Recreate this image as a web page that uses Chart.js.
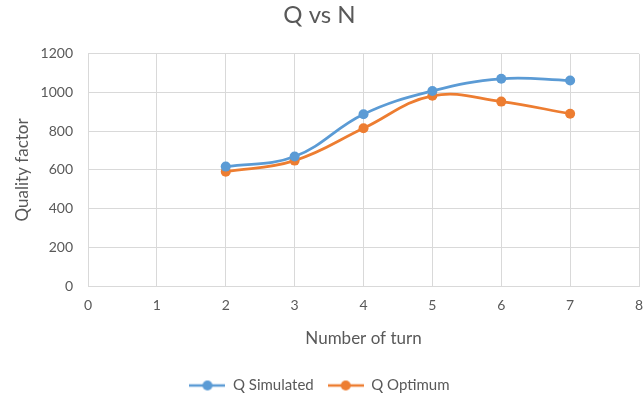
<!DOCTYPE html>
<html>
<head>
<meta charset="utf-8">
<script src="https://cdn.jsdelivr.net/npm/chart.js@4"></script>
<style>
  html, body { margin: 0; padding: 0; background: #ffffff; }
  #c { display: block; }
</style>
</head>
<body>
<canvas id="c" width="644" height="403"></canvas>
<script>
// Number of turns and the quality factor for each design
const turns = [2, 3, 4, 5, 6, 7];
const qSimulated = [617, 669, 888, 1008, 1071, 1062];
const qOptimum = [591, 648, 815, 983, 953, 890];
const seriesNames = ['Q Simulated', 'Q Optimum'];
const seriesColors = ['#5b9bd5', '#ed7d31'];

const FONT = 'Lato, "Open Sans", sans-serif';
const TEXT = '#595959';
const GRID = '#d9d9d9';

// Legend swatch: a short line with a dot in the middle
function makeMarker(color) {
  const cv = document.createElement('canvas');
  cv.width = 36; cv.height = 12;
  const g = cv.getContext('2d');
  g.strokeStyle = color; g.lineWidth = 2.5;
  g.beginPath(); g.moveTo(0, 6); g.lineTo(36, 6); g.stroke();
  g.fillStyle = color;
  g.beginPath(); g.arc(18, 6, 5, 0, Math.PI * 2); g.fill();
  return cv;
}
const markers = seriesColors.map(makeMarker);

function toPoints(ys) { return turns.map((x, i) => ({ x: x, y: ys[i] })); }

new Chart(document.getElementById('c'), {
  type: 'line',
  data: {
    datasets: [qSimulated, qOptimum].map((ys, i) => ({
      label: seriesNames[i],
      data: toPoints(ys),
      borderColor: seriesColors[i],
      backgroundColor: seriesColors[i],
      borderWidth: 2.75,
      pointRadius: 5,
      pointHoverRadius: 5,
      pointBorderWidth: 0,
      tension: 0.4,
      fill: false
    }))
  },
  options: {
    responsive: false,
    animation: false,
    devicePixelRatio: 1,
    layout: { padding: { left: 0, right: 5, top: 0, bottom: 0 } },
    plugins: {
      title: {
        display: true,
        text: 'Q vs N',
        color: TEXT,
        font: { family: FONT, size: 24, weight: 'normal' },
        padding: { top: 1, bottom: 24 }
      },
      legend: {
        position: 'bottom',
        labels: {
          color: TEXT,
          font: { family: FONT, size: 15 },
          usePointStyle: true,
          pointStyleWidth: 36,
          boxHeight: 12,
          padding: 14,
          generateLabels: (chart) => {
            const items = Chart.defaults.plugins.legend.labels.generateLabels(chart);
            items.forEach((it, i) => { it.pointStyle = markers[i]; });
            return items;
          }
        }
      },
      tooltip: { enabled: false }
    },
    scales: {
      x: {
        type: 'linear',
        min: 0, max: 8,
        ticks: { stepSize: 1, color: TEXT, font: { family: FONT, size: 14 }, padding: 11,
                 callback: (v) => String(v) },
        grid: { color: GRID, drawTicks: false },
        border: { color: GRID },
        title: {
          display: true, text: 'Number of turn', color: TEXT,
          font: { family: FONT, size: 17 }, padding: { top: 4, bottom: 15 }
        },
        afterFit: (s) => { s.height = 78; s.paddingRight = 0; }
      },
      y: {
        min: 0, max: 1200,
        ticks: { stepSize: 200, color: TEXT, font: { family: FONT, size: 14 }, padding: 15,
                 callback: (v) => String(v) },
        grid: { color: GRID, drawTicks: false },
        border: { color: GRID },
        title: {
          display: true, text: 'Quality factor', color: TEXT,
          font: { family: FONT, size: 17 }, padding: { top: 12, bottom: 0 }
        },
        afterFit: (s) => { s.width = 88; }
      }
    }
  }
});
</script>
</body>
</html>
